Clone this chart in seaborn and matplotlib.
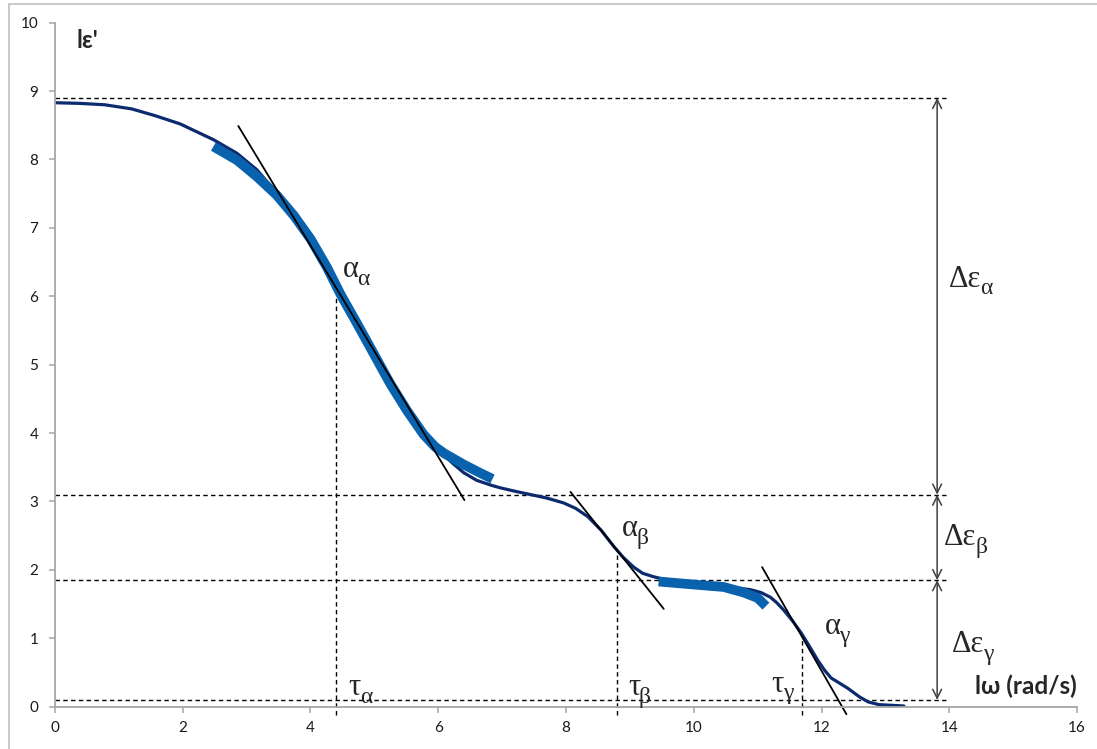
import numpy as np
import pandas as pd
import matplotlib.pyplot as plt
import seaborn as sns
from matplotlib.patches import Rectangle

# main curve lε' vs lω
lw_x = [0.0, 0.4, 0.78, 1.2, 1.57, 1.96, 2.48, 2.85, 3.16, 3.47, 3.74, 4.0, 4.26, 4.47,
        4.73, 4.99, 5.25, 5.51, 5.77, 6.03, 6.2, 6.4, 6.6, 6.82, 6.97, 7.2, 7.45, 7.7,
        7.96, 8.15, 8.34, 8.55, 8.75, 8.9, 9.06, 9.2, 9.37, 9.5, 10.0, 10.5, 10.89,
        11.05, 11.2, 11.3, 11.41, 11.55, 11.68, 11.8, 11.94, 12.05, 12.15, 12.41,
        12.6, 12.73, 12.9, 13.29]
eps_y = [8.83, 8.82, 8.80, 8.74, 8.64, 8.52, 8.29, 8.09, 7.85, 7.51, 7.21, 6.87, 6.43,
         6.04, 5.61, 5.17, 4.73, 4.34, 4.00, 3.75, 3.58, 3.42, 3.31, 3.24, 3.20, 3.15,
         3.10, 3.05, 2.98, 2.90, 2.78, 2.58, 2.34, 2.18, 2.04, 1.95, 1.90, 1.87, 1.80,
         1.76, 1.71, 1.67, 1.60, 1.52, 1.41, 1.25, 1.08, 0.90, 0.68, 0.53, 0.42, 0.27,
         0.14, 0.07, 0.03, 0.01]

# thick highlighted pieces
seg1_x = [2.48, 2.85, 3.16, 3.47, 3.74, 4.0, 4.26, 4.47, 4.73, 4.99, 5.25, 5.51, 5.77,
          5.95, 6.1, 6.4, 6.65, 6.85]
seg1_y = [8.19, 7.99, 7.75, 7.48, 7.18, 6.84, 6.42, 6.03, 5.60, 5.16, 4.72, 4.33, 3.98,
          3.80, 3.70, 3.54, 3.42, 3.33]
seg2_x = [9.45, 9.95, 10.47, 10.78, 11.00, 11.13]
seg2_y = [1.83, 1.79, 1.75, 1.67, 1.59, 1.47]

# tangents
tan_a_x, tan_a_y = [2.87, 6.41], [8.49, 3.02]
tan_b_x, tan_b_y = [8.07, 9.53], [3.14, 1.43]
tan_g_x, tan_g_y = [11.07, 12.39], [2.04, -0.11]

levels = [8.9, 3.1, 1.85, 0.1]
level_end = 13.95
tau_x = [4.4, 8.8, 11.7]
tau_top = [6.0, 2.3, 1.0]
arrow_x = 13.81

# (main, subscript, x, y)
greek_labels = [
    ('Δε', 'α', 14.0, 6.14), ('Δε', 'β', 13.92, 2.36), ('Δε', 'γ', 14.04, 0.80),
    ('α', 'α', 4.51, 6.28), ('α', 'β', 8.88, 2.49), ('α', 'γ', 12.05, 1.06),
    ('τ', 'α', 4.6, 0.17), ('τ', 'β', 8.97, 0.17), ('τ', 'γ', 11.22, 0.22),
]

sns.set_theme(style="white")
plt.rcParams['font.family'] = ['Lato', 'Open Sans', 'DejaVu Sans']

fig = plt.figure(figsize=(10.97, 7.49), dpi=100)
ax = fig.add_axes([0.0501, 0.0565, 0.9317, 0.9132])

fig.add_artist(Rectangle((9 / 1097, -0.02), 1.1, 745 / 749 + 0.02,
                         transform=fig.transFigure, fill=False, ec='#BFBFBF', lw=1.2))

dash = (0, (3.2, 2.4))
for lv in levels:
    ax.plot([0, level_end], [lv, lv], color='black', lw=1.0, ls=dash)
for tx, tt in zip(tau_x, tau_top):
    ax.plot([tx, tx], [-0.12, tt], color='black', lw=1.0, ls=dash, clip_on=False)

df = pd.DataFrame({'x': lw_x, 'y': eps_y})
sns.lineplot(data=df, x='x', y='y', sort=False, estimator=None, ax=ax,
             color='#0C2B6E', lw=2.3)
sns.lineplot(x=seg1_x, y=seg1_y, sort=False, estimator=None, ax=ax,
             color='#0862AE', lw=7, solid_capstyle='butt')
sns.lineplot(x=seg2_x, y=seg2_y, sort=False, estimator=None, ax=ax,
             color='#0862AE', lw=7, solid_capstyle='butt')
for tx, ty in [(tan_a_x, tan_a_y), (tan_b_x, tan_b_y), (tan_g_x, tan_g_y)]:
    ax.plot(tx, ty, color='black', lw=1.3, clip_on=False)

# double arrows
for top, bot in zip(levels[:-1], levels[1:]):
    ax.annotate('', xy=(arrow_x, bot), xytext=(arrow_x, top),
                arrowprops=dict(arrowstyle='<->', color='#404040', lw=1.1,
                                mutation_scale=16, shrinkA=0, shrinkB=0))

serif = 'Liberation Serif'
renderer = fig.canvas.get_renderer()
for main, sub, x, y in greek_labels:
    t = ax.text(x, y, main, fontsize=22, family=serif, ha='left', va='baseline')
    w = t.get_window_extent(renderer).width * 72 / fig.dpi
    ax.annotate(sub, xy=(x, y), xytext=(w - 1.0, -5.5), textcoords='offset points',
                fontsize=17, family=serif, ha='left', va='baseline')

ax.text(0.33, 9.63, "lε'", fontsize=17, fontweight='bold', ha='left', va='baseline')
ax.text(14.4, 0.19, "lω (rad/s)", fontsize=17.5, fontweight='bold', ha='left', va='baseline')

ax.set_xlim(0, 16)
ax.set_ylim(0, 10)
ax.set_xticks(np.arange(0, 17, 2))
ax.set_yticks(np.arange(0, 11, 1))
ax.set_xlabel('')
ax.set_ylabel('')
for s in ['top', 'right']:
    ax.spines[s].set_visible(False)
for s in ['left', 'bottom']:
    ax.spines[s].set_color('#A6A6A6')
    ax.spines[s].set_linewidth(1.3)
ax.tick_params(axis='both', which='both', direction='out', length=4, width=1.1,
               color='#A6A6A6', labelsize=11, labelcolor='#1a1a1a')
ax.tick_params(axis='y', pad=8)
ax.tick_params(axis='x', pad=6)
ax.tick_params(left=True, bottom=True)

fig.savefig('out.png', dpi=100)
